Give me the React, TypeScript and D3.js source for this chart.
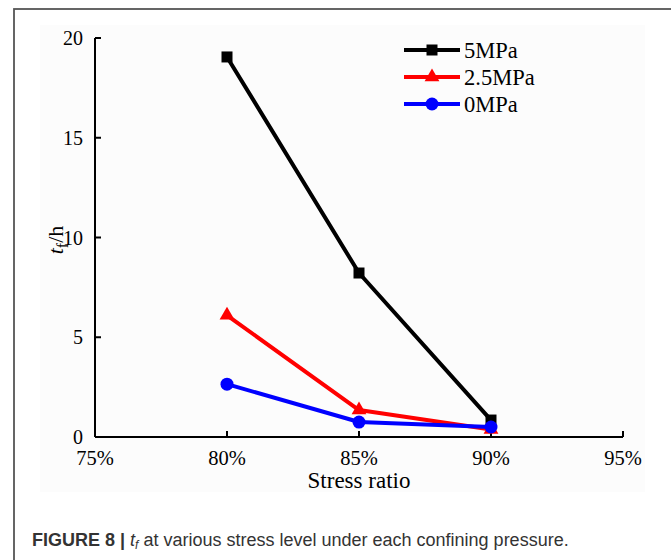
import React from "react";
import * as d3 from "d3";

const stressRatios = [80, 85, 90];
const xTicks = [75, 80, 85, 90, 95];
const yTicks = [0, 5, 10, 15, 20];
const seriesNames = ["5MPa", "2.5MPa", "0MPa"];
const seriesColors = ["#000000", "#ff0000", "#0000ff"];
const seriesMarkers = ["square", "triangle", "circle"];
const values5 = [19.05, 8.22, 0.85];
const values25 = [6.1, 1.35, 0.38];
const values0 = [2.65, 0.75, 0.5];
const allValues = [values5, values25, values0];

const W = 671;
const H = 560;

function Marker({ type, x, y, color }: { type: string; x: number; y: number; color: string }) {
  if (type === "square") return <rect x={x - 5.5} y={y - 5.5} width={11} height={11} fill={color} />;
  if (type === "triangle") {
    const p = d3.symbol().type(d3.symbolTriangle).size(95)();
    return <path d={p || ""} transform={`translate(${x},${y})`} fill={color} />;
  }
  return <circle cx={x} cy={y} r={6.5} fill={color} />;
}

export default function App() {
  const x = d3.scaleLinear().domain([75, 95]).range([95, 623]);
  const y = d3.scaleLinear().domain([0, 20]).range([437, 38]);
  const line = d3
    .line<number>()
    .x((_, i) => x(stressRatios[i]))
    .y((d) => y(d));
  const serif = "'Liberation Serif', 'Times New Roman', serif";
  const sans = "'Liberation Sans', Arial, sans-serif";
  return (
    <svg
      width={W}
      height={H}
      style={{ position: "absolute", left: 0, top: 0, background: "#fff" }}
    >
      <rect x={14} y={9} width={700} height={600} fill="#fff" stroke="#555" strokeWidth={1.8} />
      <rect x={40} y={25} width={605} height={467} fill="#fcfcfc" />
      {/* axes */}
      <line x1={x(75)} x2={x(95)} y1={y(0)} y2={y(0)} stroke="#000" strokeWidth={2} />
      <line x1={x(75)} x2={x(75)} y1={y(0)} y2={y(20)} stroke="#000" strokeWidth={2} />
      {yTicks.map((t) => (
        <g key={"y" + t}>
          <line x1={x(75)} x2={x(75) + 6} y1={y(t)} y2={y(t)} stroke="#000" strokeWidth={2} />
          <text x={83} y={y(t) + 7} textAnchor="end" fontFamily={serif} fontSize={20}>
            {t}
          </text>
        </g>
      ))}
      {xTicks.map((t) => (
        <g key={"x" + t}>
          <line x1={x(t)} x2={x(t)} y1={y(0)} y2={y(0) - 6} stroke="#000" strokeWidth={2} />
          <text x={x(t)} y={465} textAnchor="middle" fontFamily={serif} fontSize={20.5}>
            {t}%
          </text>
        </g>
      ))}
      <text x={x(85)} y={488} textAnchor="middle" fontFamily={serif} fontSize={23}>
        Stress ratio
      </text>
      <text
        transform="translate(63,240) rotate(-90)"
        textAnchor="middle"
        fontFamily={serif}
        fontSize={22}
      >
        <tspan fontStyle="italic">t</tspan>
        <tspan fontSize={16} dy={5}>f</tspan>
        <tspan dy={-5}>/h</tspan>
      </text>
      {/* series */}
      {allValues.map((vals, si) => (
        <g key={"s" + si}>
          <path d={line(vals) || ""} fill="none" stroke={seriesColors[si]} strokeWidth={4} strokeLinejoin="round" />
          {vals.map((v, i) => (
            <Marker key={i} type={seriesMarkers[si]} x={x(stressRatios[i])} y={y(v)} color={seriesColors[si]} />
          ))}
        </g>
      ))}
      {/* legend */}
      {seriesNames.map((n, i) => {
        const ly = 50 + i * 27;
        return (
          <g key={"l" + i}>
            <line x1={404} x2={460} y1={ly} y2={ly} stroke={seriesColors[i]} strokeWidth={4} />
            <Marker type={seriesMarkers[i]} x={432} y={ly} color={seriesColors[i]} />
            <text x={464} y={ly + 7.5} fontFamily={serif} fontSize={22.5}>
              {n}
            </text>
          </g>
        );
      })}
      {/* caption */}
      <text x={32} y={546} fontFamily={sans} fontSize={18} fill="#333">
        <tspan fontWeight="bold">FIGURE 8 | </tspan>
        <tspan fontStyle="italic">t</tspan>
        <tspan fontStyle="italic" fontSize={12} dy={3}>f</tspan>
        <tspan dy={-3}> at various stress level under each confining pressure.</tspan>
      </text>
    </svg>
  );
}
